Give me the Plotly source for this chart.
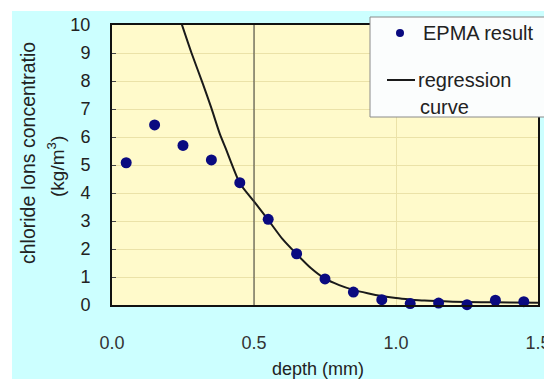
import plotly.graph_objects as go

# EPMA measurements
depth = [0.05, 0.15, 0.25, 0.35, 0.45, 0.55, 0.65, 0.75, 0.85, 0.95, 1.05, 1.15, 1.25, 1.35, 1.45]
epma = [5.08, 6.43, 5.70, 5.18, 4.37, 3.06, 1.83, 0.93, 0.46, 0.19, 0.05, 0.07, 0.01, 0.17, 0.12]

# regression curve
curve_x = [0.24, 0.28, 0.32, 0.35, 0.38, 0.40, 0.45, 0.50, 0.55, 0.60, 0.65, 0.70, 0.75,
           0.80, 0.85, 0.90, 0.95, 1.00, 1.05, 1.10, 1.20, 1.30, 1.40, 1.50]
curve_y = [10.2, 9.0, 7.9, 7.03, 6.1, 5.6, 4.35, 3.70, 3.04, 2.36, 1.82, 1.32, 0.94,
           0.71, 0.54, 0.42, 0.32, 0.25, 0.20, 0.16, 0.12, 0.10, 0.09, 0.08]

x_ticks = [0.0, 0.5, 1.0, 1.5]
y_ticks = [0, 1, 2, 3, 4, 5, 6, 7, 8, 9, 10]

W, H = 544, 379
L, R, T, B = 112, 538, 25, 305  # plot area in pixels


def px(x):
    return (x - L) / (R - L)


def py(y):
    return (B - y) / (B - T)


FONT = "Liberation Sans, Arial, sans-serif"

fig = go.Figure()
fig.add_trace(go.Scatter(x=curve_x, y=curve_y, mode="lines", name="regression curve",
                         line=dict(color="#1a1a1a", width=2, shape="spline", smoothing=0.6),
                         showlegend=False))
fig.add_trace(go.Scatter(x=depth, y=epma, mode="markers", name="EPMA result",
                         marker=dict(color="#0a0a80", size=11), showlegend=False, cliponaxis=False))

shapes = [
    # white strips round the chart area
    dict(type="rect", xref="paper", yref="paper", x0=px(0), x1=px(W + 5), y0=py(-5), y1=py(11),
         fillcolor="white", line_width=0, layer="below"),
    dict(type="rect", xref="paper", yref="paper", x0=px(-5), x1=px(12), y0=py(H + 5), y1=py(-5),
         fillcolor="white", line_width=0, layer="below"),
    # dark vertical line at 0.5
    dict(type="line", xref="x", yref="paper", x0=0.5, x1=0.5, y0=0, y1=1,
         line=dict(color="#3a3a3a", width=1), layer="above"),
    # legend box
    dict(type="rect", xref="paper", yref="paper", x0=px(370), x1=px(560), y0=py(117), y1=py(17),
         fillcolor="#fbfdfd", line=dict(color="#8a8a8a", width=1), layer="above"),
    dict(type="circle", xref="paper", yref="paper", x0=px(396), x1=px(404), y0=py(37), y1=py(29),
         fillcolor="#0a0a80", line_width=0, layer="above"),
    dict(type="line", xref="paper", yref="paper", x0=px(387), x1=px(415), y0=py(80), y1=py(80),
         line=dict(color="#1a1a1a", width=2), layer="above"),
]

annotations = [
    dict(text="EPMA result", x=px(421), y=py(33), xanchor="left", yanchor="middle", size=20),
    dict(text="regression", x=px(416), y=py(80), xanchor="left", yanchor="middle", size=20),
    dict(text="curve", x=px(418), y=py(107), xanchor="left", yanchor="middle", size=20),
    dict(text="chloride Ions concentratio", x=px(28), y=py(153), textangle=-90,
         xanchor="center", yanchor="middle", size=19.5),
    dict(text="(kg/m<sup>3</sup>)", x=px(56), y=py(166), textangle=-90,
         xanchor="center", yanchor="middle", size=19),
    dict(text="depth (mm)", x=px(318), y=py(369), xanchor="center", yanchor="middle", size=18),
]
for a in annotations:
    size = a.pop("size")
    a.update(xref="paper", yref="paper", showarrow=False,
             font=dict(family=FONT, size=size, color="#222222"))

fig.update_layout(
    width=W, height=H,
    margin=dict(l=L, r=W - R, t=T, b=H - B, pad=0, autoexpand=False),
    paper_bgcolor="#ccffff",
    plot_bgcolor="#fffacb",
    showlegend=False,
    shapes=shapes,
    annotations=annotations,
    xaxis=dict(range=[0, 1.5], tickmode="array", tickvals=x_ticks,
               ticktext=[f"{v:.1f}" for v in x_ticks], ticklabeloverflow="allow",
               automargin=False, showline=True, mirror=True,
               linecolor="#111111", linewidth=2, showgrid=True, gridcolor="#ebe2a8", gridwidth=1,
               zeroline=False, ticks="", ticklabelstandoff=20,
               tickfont=dict(family=FONT, size=18, color="#333333")),
    yaxis=dict(range=[0, 10], tickmode="array", tickvals=y_ticks, automargin=False,
               showline=True, mirror=True, linecolor="#111111",
               linewidth=2, showgrid=True, gridcolor="#ebe2a8", gridwidth=1, zeroline=False,
               ticks="inside", ticklen=4, tickcolor="#444444", ticklabelstandoff=16,
               tickfont=dict(family=FONT, size=18, color="#222222")),
)

# no default page margin, so the figure sits at the window's top-left corner
fig.write_html("out.html", config={"displayModeBar": False},
               post_script="document.body.style.margin='0';")
